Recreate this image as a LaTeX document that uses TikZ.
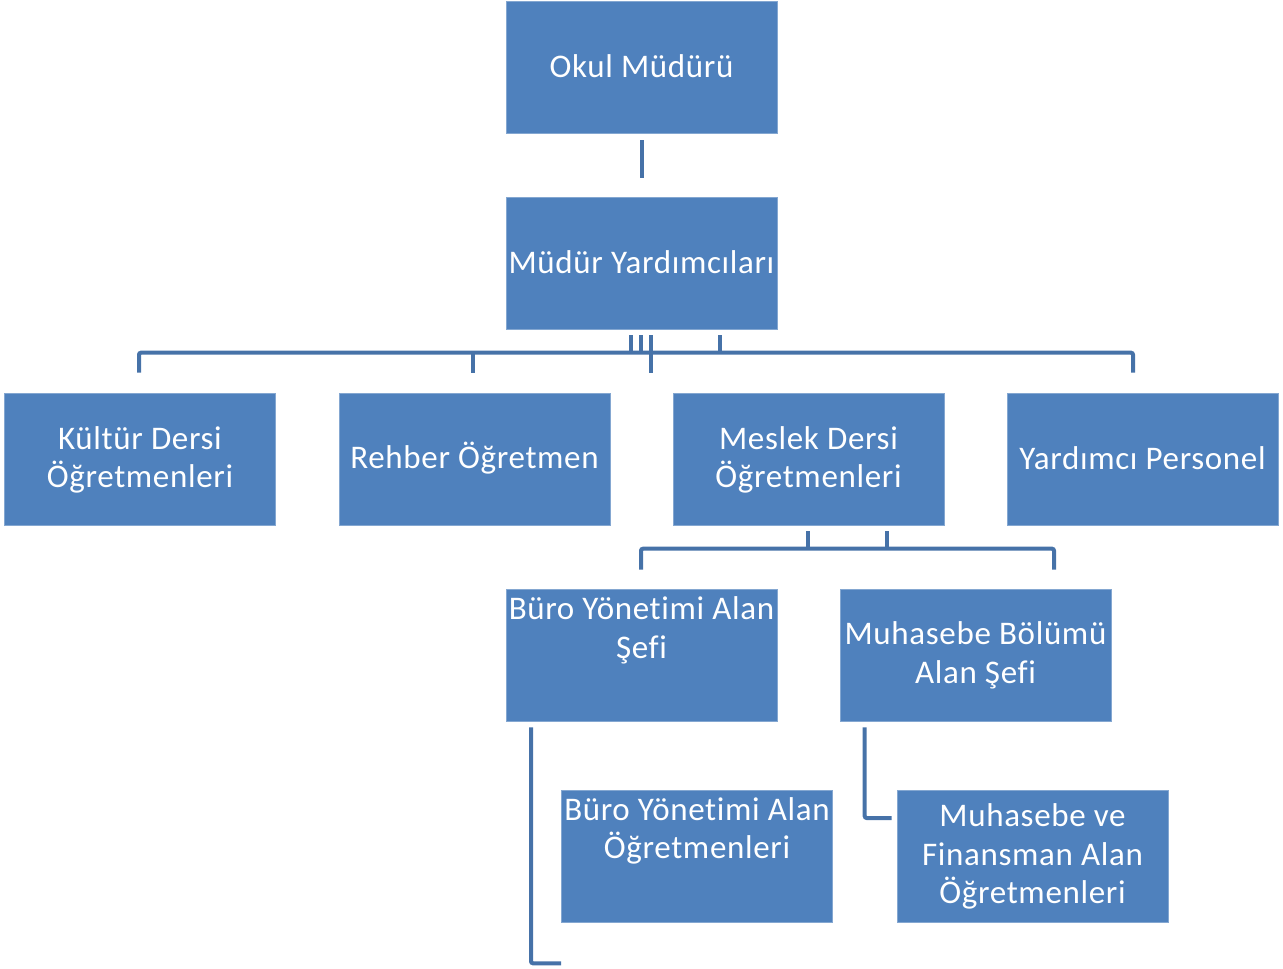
\documentclass[tikz,border=0pt]{standalone}
\usepackage{fontspec}
\setmainfont[LetterSpace=2,Ligatures=CommonOff]{Carlito}
\usetikzlibrary{calc}
\definecolor{boxblue}{RGB}{79,129,189}
\definecolor{lineblue}{RGB}{70,114,168}
\begin{document}
\begin{tikzpicture}[x=1pt,y=-1pt,
  box/.style={rectangle,fill=boxblue,draw=boxblue!70!white,line width=0.6pt,minimum width=271pt,minimum height=132pt,inner sep=0pt},
  lbl/.style={text=white,font=\fontsize{33}{38.7}\selectfont,align=center,inner sep=0pt},
  conn/.style={draw=lineblue,line width=4pt,rounded corners=2pt}]
\useasboundingbox (0,0) rectangle (1283,969);
% boxes
\node[box] (okul) at (641.5,67) {};
\node[lbl] at ($(okul)+(0,-1)$) {Okul Müdürü};
\node[box] (my) at (641.5,263) {};
\node[lbl] at ($(my)+(0,-1)$) {Müdür Yardımcıları};
\node[box] (kultur) at (140,459) {};
\node[lbl] at ($(kultur)+(0,1)$) {Kültür Dersi\\Öğretmenleri};
\node[box] (rehber) at (474.5,459) {};
\node[lbl] at ($(rehber)+(0,-1)$) {Rehber Öğretmen};
\node[box] (meslek) at (808.5,459) {};
\node[lbl] at ($(meslek)+(0,1)$) {Meslek Dersi\\Öğretmenleri};
\node[box] (yard) at (1142.5,459) {};
\node[lbl] at ($(yard)+(0,-1)$) {Yardımcı Personel};
\node[box] (buro) at (641.5,655) {};
\node[lbl] at ($(buro)+(0,-25)$) {Büro Yönetimi Alan\\Şefi};
\node[box] (muh) at (975.5,655) {};
\node[lbl] at ($(muh)+(0,0.5)$) {Muhasebe Bölümü\\Alan Şefi};
\node[box] (buroog) at (697,856) {};
\node[lbl] at ($(buroog)+(0,-25)$) {Büro Yönetimi Alan\\Öğretmenleri};
\node[box] (muhog) at (1032.5,856) {};
\node[lbl] at ($(muhog)+(0,0.5)$) {Muhasebe ve\\Finansman Alan\\Öğretmenleri};
% connectors
\draw[conn,shorten <=7pt,shorten >=19pt] (okul) -- (my);
\draw[conn] ($(kultur.north)+(-1,-20)$) -- ++(0,-20) -| ($(yard.north)+(-9.5,-20)$);
\draw[conn] ($(rehber.north)+(-1.5,0)$) ++(0,-20) -- ++(0,-20);
\draw[conn] ($(my.south)+(9.5,6)$) -- ($(meslek.north)+(-157.5,-20)$);
\draw[conn] ($(my.south)+(-10.5,6)$) -- ++(0,18);
\draw[conn] ($(my.south)+(-0.5,6)$) -- ++(0,18);
\draw[conn] ($(my.south)+(78.5,6)$) -- ++(0,18);
\draw[conn] ($(meslek.south)+(-0.5,6)$) -- ++(0,18);
\draw[conn] ($(meslek.south)+(78.5,6)$) -- ++(0,18);
\draw[conn] ($(buro.north)+(-0.5,-19)$) -- ++(0,-21) -| ($(muh.north)+(78.5,-19)$);
\draw[conn] ($(buro.south)+(-110.5,6)$) |- ($(buroog.south west)+(0,41)$);
\draw[conn] ($(muh.south west)+(25,6)$) |- ($(muhog.west)+(-5,-38)$);
\end{tikzpicture}
\end{document}
